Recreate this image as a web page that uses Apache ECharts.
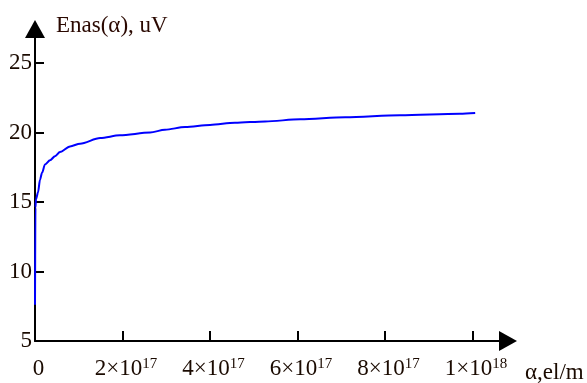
<!DOCTYPE html>
<html>
<head>
<meta charset="utf-8">
<script src="https://cdn.jsdelivr.net/npm/echarts@6/dist/echarts.min.js"></script>
<style>
  html, body { margin: 0; padding: 0; background: #fff; }
  #chart { width: 587px; height: 383px; }
</style>
</head>
<body>
<div id="chart"></div>
<script>
// curve
const alphaValues = [0, 1e15, 2.3e15, 6.9e15, 1.14e16, 1.6e16, 2.29e16, 3.43e16, 4.57e16, 5.71e16, 8.0e16, 1.03e17, 1.49e17, 1.94e17, 2.63e17, 2.97e17, 3.43e17, 4.0e17, 4.57e17, 5.26e17, 6.06e17, 7.09e17, 8.34e17, 9.71e17, 1.006e18]
const enasValues = [7.6, 14.6, 15.2, 15.7, 16.6, 17.1, 17.7, 18.0, 18.3, 18.6, 19.0, 19.2, 19.6, 19.8, 20.0, 20.2, 20.4, 20.55, 20.7, 20.8, 20.95, 21.1, 21.25, 21.35, 21.4]

const xLabelValues = [0, 2e17, 4e17, 6e17, 8e17, 1e18]
const xLabelTexts = ['0', '2×10^17', '4×10^17', '6×10^17', '8×10^17', '1×10^18']
const xTickValues = [2e17, 4e17, 6e17, 8e17, 1e18]
const yLabelValues = [5, 10, 15, 20, 25]
const yTickValues = [10, 15, 20, 25]

const font = '"Liberation Serif", "DejaVu Serif", serif'
const textColor = '#1a0a00'

const chart = echarts.init(document.getElementById('chart'))

const option = {
  animation: false,
  grid: {
    left: 35,
    right: 79,
    top: 29,
    bottom: 42,
    outerBoundsMode: 'none',
  },
  xAxis: {
    type: 'value',
    min: 0,
    max: 1.081e18,
    name: 'α,el/m',
    nameLocation: 'end',
    nameGap: 17,
    nameTextStyle: {
      fontFamily: font,
      fontSize: 23,
      color: textColor,
      align: 'left',
      verticalAlign: 'top',
      lineHeight: 64,
    },
    axisLine: {
      onZero: false,
      symbol: ['none', 'triangle'],
      symbolSize: [20, 18],
      lineStyle: { color: '#000', width: 2 },
    },
    axisTick: {
      inside: true,
      length: 10,
      customValues: xTickValues,
      lineStyle: { color: '#000', width: 2 },
    },
    axisLabel: {
      customValues: xLabelValues,
      margin: 16,
      fontFamily: font,
      fontSize: 23,
      color: textColor,
      formatter: function (value) {
        const i = xLabelValues.indexOf(value)
        const t = xLabelTexts[i] || ''
        if (t.indexOf('^') < 0) return '{b|' + t + '}{s|\u200b}'
        const parts = t.split('^')
        return '{b|' + parts[0] + '}{s|' + parts[1] + '}'
      },
      padding: [0, 0, 0, 7],
      rich: {
        b: { fontFamily: font, fontSize: 23, lineHeight: 23, color: textColor, verticalAlign: 'bottom' },
        s: { fontFamily: font, fontSize: 15, lineHeight: 15, color: textColor, verticalAlign: 'top', padding: [0, 0, 14, 0] },
      },
    },
    splitLine: { show: false },
  },
  yAxis: {
    type: 'value',
    min: 5,
    max: 27.45,
    name: 'Enas(α), uV',
    nameLocation: 'end',
    nameGap: 3,
    nameTextStyle: {
      fontFamily: font,
      fontSize: 23,
      color: '#2a0800',
      align: 'left',
      verticalAlign: 'middle',
      padding: [0, 0, 0, 21],
    },
    axisLine: {
      onZero: false,
      symbol: ['none', 'triangle'],
      symbolSize: [20, 18],
      lineStyle: { color: '#000', width: 2 },
    },
    axisTick: {
      inside: true,
      length: 9,
      customValues: yTickValues,
      lineStyle: { color: '#000', width: 2 },
    },
    axisLabel: {
      customValues: yLabelValues,
      margin: 3,
      fontFamily: font,
      fontSize: 23,
      color: textColor,
    },
    splitLine: { show: false },
  },
  series: [
    {
      type: 'line',
      data: alphaValues.map((a, i) => [a, enasValues[i]]),
      showSymbol: false,
      smooth: 0.3,
      smoothMonotone: 'x',
      lineStyle: { color: '#0000ff', width: 2 },
      itemStyle: { color: '#0000ff' },
    },
  ],
}
chart.setOption(option)
</script>
</body>
</html>
